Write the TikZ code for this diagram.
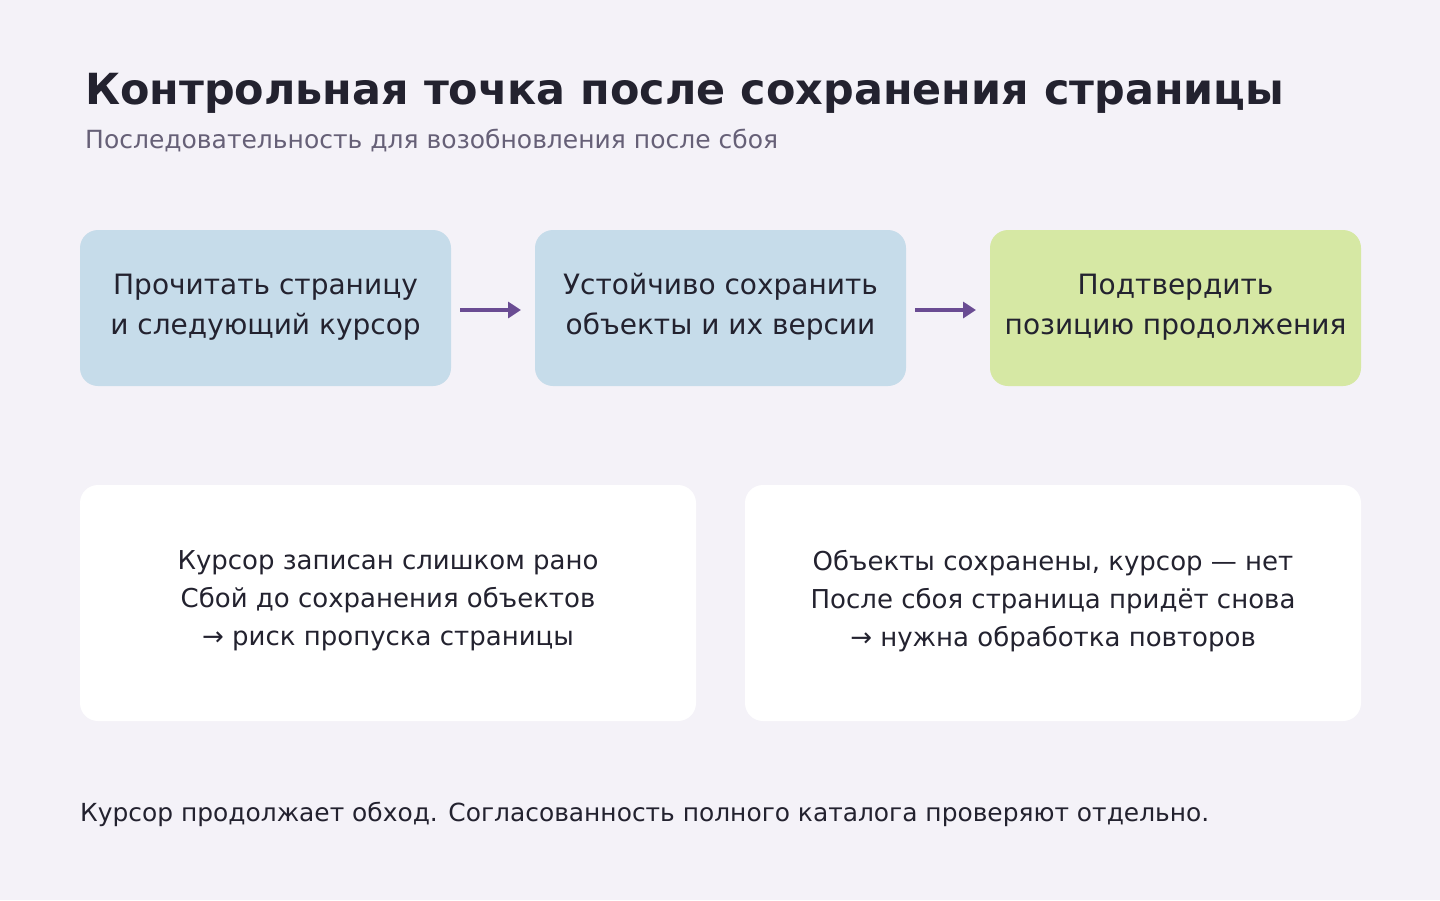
\documentclass[tikz,border=0pt]{standalone}
\usepackage{fontspec}
\setmainfont{DejaVu Sans}
\usetikzlibrary{arrows.meta}
\definecolor{bg}{HTML}{F4F2F8}
\definecolor{ink}{HTML}{23222F}
\definecolor{sub}{HTML}{666077}
\definecolor{bluebox}{HTML}{C6DCEA}
\definecolor{greenbox}{HTML}{D6E8A4}
\definecolor{arr}{HTML}{6A4C93}
\begin{document}
\begin{tikzpicture}[x=1pt,y=-1pt,
  stepbox/.style={rounded corners=18pt,draw=none,text=ink,align=center,font=\fontsize{28}{40}\selectfont},
  note/.style={rounded corners=18pt,fill=white,draw=none,text=ink,align=center,font=\fontsize{26}{38}\selectfont},
  flow/.style={draw=arr,line width=4pt,-{Triangle[length=13pt,width=16pt]}}]
\fill[bg] (0,0) rectangle (1440,900);
\useasboundingbox (0,0) rectangle (1440,900);
\node[anchor=base west,text=ink,font=\bfseries\fontsize{42.9}{48}\selectfont,inner sep=0] (title) at (85,104) {Контрольная точка после сохранения страницы};
\node[anchor=base west,text=sub,font=\fontsize{25}{28}\selectfont,inner sep=0] (subtitle) at (85,148) {Последовательность для возобновления после сбоя};
\path[stepbox,fill=bluebox] (80,230) rectangle (451,386);
\node[stepbox] (a) at (265.5,307) {Прочитать страницу\\и следующий курсор};
\path[stepbox,fill=bluebox] (535,230) rectangle (906,386);
\node[stepbox] (b) at (720.5,307) {Устойчиво сохранить\\объекты и их версии};
\path[stepbox,fill=greenbox] (990,230) rectangle (1361,386);
\node[stepbox] (c) at (1175.5,307) {Подтвердить\\позицию продолжения};
\coordinate (a1) at (460,310); \coordinate (a2) at (521,310);
\coordinate (b1) at (915,310); \coordinate (b2) at (976,310);
\draw[flow] (a1) -- (a2);
\draw[flow] (b1) -- (b2);
\path[note] (80,485) rectangle (696,721);
\node[note] (n1) at (388,601) {Курсор записан слишком рано\\Сбой до сохранения объектов\\→ риск пропуска страницы};
\path[note] (745,485) rectangle (1361,721);
\node[note] (n2) at (1053,601) {Объекты сохранены, курсор — нет\\После сбоя страница придёт снова\\→ нужна обработка повторов};
\node[anchor=west,text=ink,font=\fontsize{24.9}{28}\selectfont,inner sep=0] (foot) at (80,814) {Курсор продолжает обход. Согласованность полного каталога проверяют отдельно.};
\end{tikzpicture}
\end{document}
